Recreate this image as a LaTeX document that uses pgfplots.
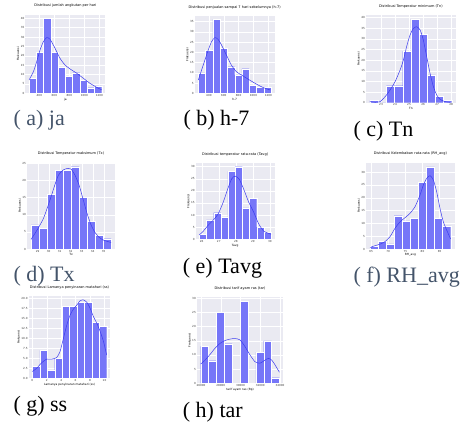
\documentclass[border=0pt]{standalone}
\usepackage{pgfplots}
\pgfplotsset{compat=1.18}
\usepackage{fontspec}
\setmainfont{Liberation Serif}
\newfontfamily\dejavu{DejaVu Sans}
\definecolor{bgc}{RGB}{234,234,242}
\definecolor{barc}{RGB}{118,118,248}
\definecolor{kdec}{RGB}{60,60,238}
\definecolor{capc}{RGB}{68,84,106}
\definecolor{tickc}{RGB}{60,60,60}
\pgfplotsset{
  hp/.style={
    scale only axis, anchor=south west,
    axis background/.style={fill=bgc},
    axis line style={draw=none},
    major tick length=0pt,
    grid=major, grid style={white, line width=0.35pt},
    tick label style={font=\fontsize{2.8}{3}\selectfont\dejavu, text=tickc, inner sep=0.8pt},
    title style={font=\fontsize{3.5}{4}\selectfont\dejavu, inner sep=0.8pt},
    label style={font=\fontsize{2.9}{3.2}\selectfont\dejavu, inner sep=0.6pt},
    ylabel={Frekuensi},
    ymin=0,
    scaled ticks=false,
    /pgf/number format/assume math mode=true,
    /pgf/number format/1000 sep={},
  },
  hbar/.style={ybar interval, fill=barc, draw=white, line width=0.25pt},
  hkde/.style={kdec, line width=0.5pt, smooth, tension=0.4, mark=none},
}
\begin{document}
\begin{tikzpicture}
\useasboundingbox (0,0) rectangle (468pt,-424pt);
\tikzset{capt/.style={anchor=base west, inner sep=0, font=\fontsize{22}{24}\selectfont}}

% (a) ja
\begin{axis}[hp, at={(25.4pt,-93.3pt)}, width=79.9pt, height=78.8pt,
  xmin=213.5, xmax=1279.5, ymax=42,
  xtick={400,600,800,1000,1200}, ytick={0,5,...,40},
  title={Distribusi jumlah angkutan per hari}, xlabel={ja}]
\addplot[hbar] coordinates {(262,8)(358.9,22)(455.8,40)(552.7,22)(649.6,14)(746.5,9)(843.4,11)(940.3,7)(1037.2,3)(1134.1,4)(1231,4)};
\addplot[hkde] coordinates {(262,7.1)(320,11.5)(364,16.9)(409,23.1)(453,27.5)(498,29.7)(542,28.8)(609,24)(676,18.6)(742,15.1)(809,13)(898,10.7)(987,8)(1076,5.3)(1164,3.2)(1231,1.8)};
\end{axis}

% (b) h-7
\begin{axis}[hp, at={(194.7pt,-93.3pt)}, width=79.9pt, height=77.5pt,
  xmin=209.1, xmax=1283.9, ymax=37.8,
  xtick={400,600,800,1000,1200}, ytick={0,5,...,35},
  title={Distribusi penjualan sampai 7 hari sebelumnya (h-7)}, xlabel={h-7}]
\addplot[hbar] coordinates {(258,10)(355.7,21)(453.4,36)(551.1,22)(648.8,13)(746.5,9)(844.2,12)(941.9,4)(1039.6,3)(1137.3,3)(1235,3)};
\addplot[hkde] coordinates {(258,6.5)(302,11.4)(347,16.3)(391,21.1)(436,25.2)(480,27.2)(524,26.3)(569,23.6)(635,18.7)(702,13.8)(769,10.6)(857,8.5)(946,6.5)(1035,4.6)(1124,2.9)(1226,1.6)};
\end{axis}

% (c) Tn
\begin{axis}[hp, at={(365.9pt,-102.7pt)}, width=89.9pt, height=87.5pt,
  xmin=21.922, xmax=28.339, ymax=41,
  xtick={23,24,25,26,27,28}, ytick={0,5,...,40},
  title={Distribusi Temperatur minimum (Tn)}, xlabel={Tn}]
\addplot[hbar] coordinates {(22.214,1)(22.797,0)(23.381,8)(23.964,8)(24.547,24)(25.131,39)(25.714,32)(26.297,13)(26.881,3)(27.464,1)(28.047,1)};
\addplot[hkde] coordinates {(22.21,0.5)(22.57,0.2)(22.93,0.5)(23.29,2.8)(23.64,5.9)(24.0,9.8)(24.36,15.3)(24.6,20)(24.83,26.3)(25.07,31.7)(25.31,34.8)(25.55,35.6)(25.79,34.1)(26.02,29.4)(26.26,21.6)(26.5,13.8)(26.74,7.5)(26.98,3.6)(27.21,1.6)(27.57,0.5)(27.93,0.2)};
\end{axis}

% (d) Tx
\begin{axis}[hp, at={(27pt,-249pt)}, width=88pt, height=86.5pt,
  xmin=28.026, xmax=36.024, ymax=25.2,
  xtick={29,30,...,35}, ytick={0,5,...,25},
  title={Distribusi Temperatur maksimum (Tx)}, xlabel={Tx}]
\addplot[hbar] coordinates {(28.39,7)(29.117,6)(29.844,16)(30.571,23)(31.298,23)(32.025,24)(32.752,15)(33.479,8)(34.206,4)(34.933,3)(35.66,3)};
\addplot[hkde] coordinates {(28.39,2.8)(28.76,4.6)(29.12,6.5)(29.52,8.9)(29.85,11.8)(30.18,14.9)(30.55,18.6)(30.88,21.5)(31.3,23)(31.73,23.5)(32.03,23.3)(32.39,21.5)(32.76,18.6)(33.15,14.2)(33.48,10.4)(33.85,7)(34.21,4.8)(34.58,3.4)(34.97,2.6)(35.67,1.9)};
\end{axis}

% (e) Tavg
\begin{axis}[hp, at={(195.7pt,-239.3pt)}, width=78.9pt, height=76.3pt,
  xmin=25.65, xmax=30.27, ymax=31.5,
  xtick={26,27,28,29,30}, ytick={0,5,...,30},
  title={Distribusi temperatur rata-rata (Tavg)}, xlabel={Tavg}]
\addplot[hbar] coordinates {(25.86,2)(26.28,8)(26.70,11)(27.12,9)(27.54,28)(27.96,30)(28.38,13)(28.80,17)(29.22,5)(29.64,3)(30.06,3)};
\addplot[hkde] coordinates {(25.86,1.8)(26.1,3.4)(26.39,5.9)(26.69,8)(26.98,10.7)(27.27,15.5)(27.53,20.9)(27.76,25)(27.96,26.1)(28.2,24.8)(28.45,20.9)(28.75,15.4)(29.04,11.3)(29.33,6.5)(29.63,3.4)(30.06,2.1)};
\end{axis}

% (f) RH_avg
\begin{axis}[hp, at={(366pt,-249pt)}, width=88.7pt, height=86.2pt,
  xmin=63.535, xmax=89.385, ymax=33.6,
  xtick={65,70,75,80,85}, ytick={0,5,...,30},
  title={Distribusi Kelembaban rata-rata (RH\_avg)}, xlabel={RH\_avg}]
\addplot[hbar] coordinates {(64.71,1)(67.06,3)(69.41,2)(71.76,13)(74.11,11)(76.46,12)(78.81,26)(81.16,32)(83.51,12)(85.86,9)(88.21,9)};
\addplot[hkde] coordinates {(64.71,0.6)(66.17,1.3)(67.62,1.9)(69.08,2.9)(70.53,4.8)(71.99,8.1)(73.45,10.6)(74.9,12.2)(76.36,13.9)(77.82,16.5)(79.27,21)(80.24,24.9)(81.21,27.5)(82.19,28.6)(83.16,26.9)(84.13,22.3)(85.1,15.8)(86.07,10.6)(87.04,7.4)(88.2,3.9)};
\end{axis}

% (g) ss
\begin{axis}[hp, at={(28.6pt,-378.3pt)}, width=81.8pt, height=82.4pt,
  xmin=-0.515, xmax=10.815, ymax=20.6,
  xtick={0,2,...,10}, ytick={0,2.5,...,20},
  yticklabel style={/pgf/number format/.cd, fixed, fixed zerofill, precision=1},
  title={Distribusi Lamanya penyinaran matahari (ss)}, xlabel={Lamanya penyinaran matahari (ss)}]
\addplot[hbar] coordinates {(0,3)(1.03,7)(2.06,2)(3.09,5)(4.12,18)(5.15,18)(6.18,19)(7.21,19)(8.24,14)(9.27,13)(10.3,13)};
\addplot[hkde] coordinates {(0,1.7)(0.6,2.5)(1.3,3.9)(1.99,4.8)(2.69,4.8)(3.38,5.2)(3.84,6.7)(4.31,10)(4.77,13.3)(5.23,15.8)(5.69,17.3)(6.16,18.3)(6.62,19.4)(7.08,19.6)(7.55,19)(8.01,17.5)(8.47,15.4)(8.94,13.75)(9.4,11.7)(9.86,9.2)(10.3,5.8)};
\end{axis}

% (h) tar
\begin{axis}[hp, at={(196.8pt,-383.3pt)}, width=86.5pt, height=86.3pt,
  xmin=25568, xmax=34331, ymax=30.45,
  xtick={26000,28000,30000,32000,34000}, ytick={0,5,...,30},
  title={Distribusi tarif ayam ras (tar)}, xlabel={tarif ayam ras (Rp)}]
\addplot[hbar] coordinates {(25966,13)(26762.7,8)(27559.4,25)(28356.1,14)(29152.8,0)(29949.5,29)(30746.2,0)(31542.9,11)(32339.6,15)(33136.3,2)(33933,2)};
\addplot[hkde] coordinates {(25966,6.8)(26405,8.2)(26912,10.2)(27418,12.4)(27924,14.1)(28431,15.1)(28937,15.6)(29444,15.8)(29950,15.3)(30456,12.9)(30963,10)(31469,7.6)(31976,7.1)(32482,8.2)(32820,8.8)(33157,8.2)(33495,6.5)(33934,3.9)};
\end{axis}

\node[capt, text=capc] at (13.3pt,-125.7pt) {( a) ja};
\node[capt] at (183.3pt,-125.3pt) {( b) h-7};
\node[capt] at (353.3pt,-136.7pt) {( c) Tn};
\node[capt, text=capc] at (13.3pt,-281pt) {( d) Tx};
\node[capt] at (182.7pt,-273.3pt) {( e) Tavg};
\node[capt, text=capc] at (353.3pt,-282pt) {( f) RH\_avg};
\node[capt] at (13.3pt,-411.7pt) {( g) ss};
\node[capt] at (182.7pt,-417.3pt) {( h) tar};
\end{tikzpicture}
\end{document}
